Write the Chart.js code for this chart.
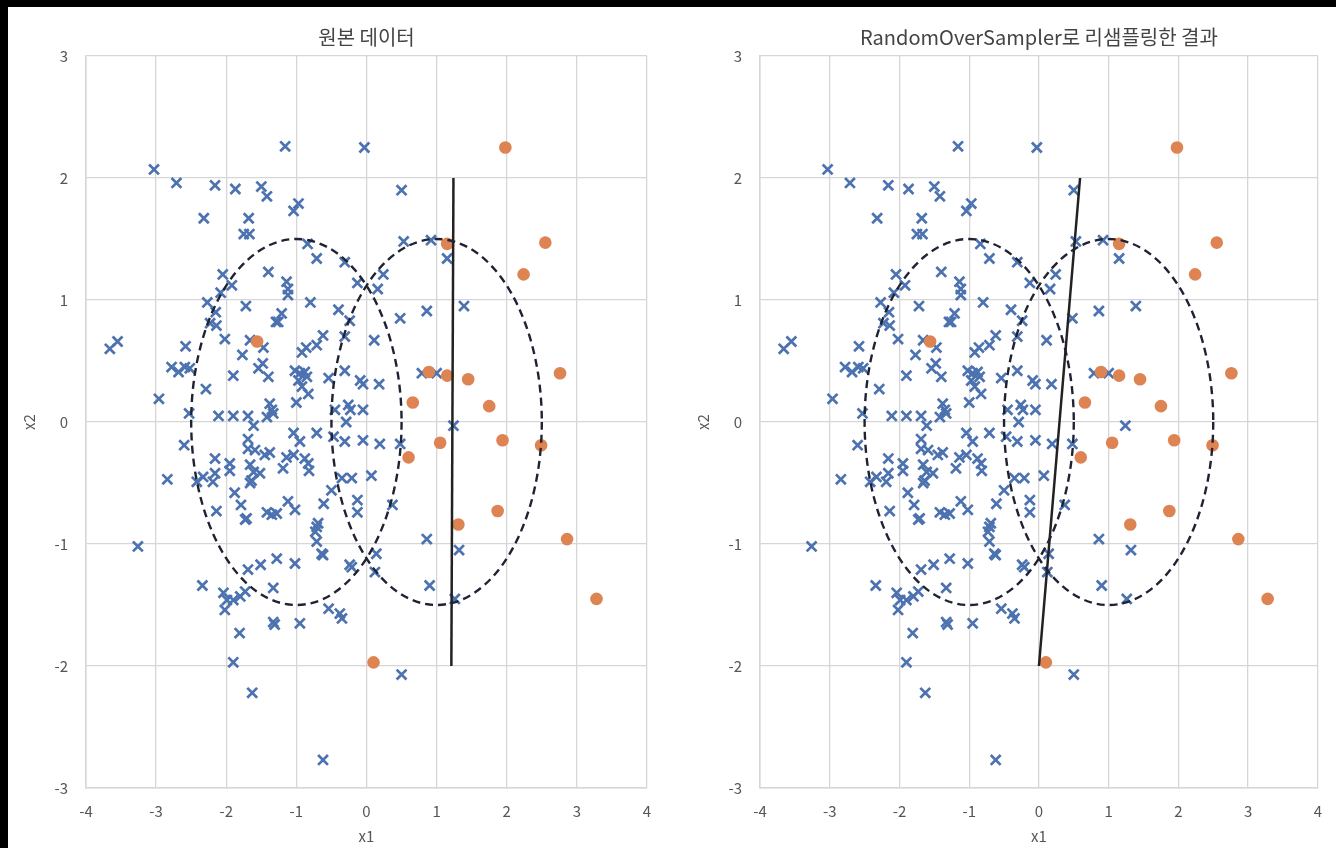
<!DOCTYPE html>
<html>
<head>
<meta charset="utf-8">
<script src="https://cdn.jsdelivr.net/npm/chart.js@4.4.0/dist/chart.umd.min.js"></script>
<style>
  html, body { margin: 0; padding: 0; background: #000; }
  body { width: 1336px; height: 848px; position: relative; overflow: hidden; }
  #sheet { position: absolute; left: 8px; top: 7px; width: 1328px; height: 841px; background: #fff; }
  .box { position: absolute; top: 0; height: 841px; }
  #boxLeft { left: 0; width: 674px; }
  #boxRight { left: 674px; width: 654px; }
</style>
</head>
<body>
<div id="sheet">
  <div class="box" id="boxLeft"><canvas id="leftChart"></canvas></div>
  <div class="box" id="boxRight"><canvas id="rightChart"></canvas></div>
</div>
<script>
// class 0 samples (blue crosses)
const blueX1 = [-3.03,-2.71,-2.16,-1.87,-1.50,-1.42,-1.16,-2.32,-1.68,-1.75,-1.67,-1.40,-2.05,-1.92,-2.08,-1.72,-2.27,-2.15,-2.23,-2.14,
  -1.29,-2.02,-3.66,-3.55,-2.58,-1.66,-1.47,-1.77,-2.78,-2.68,-2.59,-2.52,-1.48,-1.54,-1.40,-1.90,-2.29,-2.96,-2.53,-2.11,
  -1.90,-1.69,-1.38,-1.35,-1.42,-1.33,-1.61,-1.69,-2.60,-1.69,
  -0.03,0.50,-0.97,-1.04,-0.84,0.53,0.92,1.15,-0.71,-0.31,0.24,-0.13,0.16,-1.14,-1.12,-1.12,-0.80,-0.40,-0.24,0.48,
  0.86,-1.21,-1.26,-0.31,-0.62,-0.71,-0.86,-0.92,0.11,-1.02,-0.95,-0.88,-0.97,-0.85,-0.92,-0.83,-0.54,-0.31,-0.09,-0.05,
  0.18,0.79,1.00,-1.00,-0.45,-0.26,-0.23,-0.05,-0.29,-1.04,-0.95,-0.71,-0.47,-0.31,-0.05,0.19,0.48,1.24,1.39,
  0.50,-0.62,0.86,0.90,0.14,0.12,-0.24,-0.21,-0.54,-0.38,-0.35,-0.95,-1.33,-1.31,-1.33,-1.28,-1.02,-0.71,-0.69,-0.73,
  -0.71,-0.62,-0.64,-1.12,-1.02,-1.28,-1.35,-0.61,-0.13,-0.13,0.37,-0.50,-0.35,-0.21,0.07,-1.19,-1.14,-1.04,-0.83,-0.82,
  -0.88,1.32,1.26,
  -2.84,-2.16,-2.42,-2.33,-2.16,-2.19,-1.95,-1.95,-1.66,-1.61,-1.52,-1.64,-1.66,-1.45,-1.38,-1.59,-1.88,-1.79,-2.14,-1.73,
  -1.71,-1.42,-3.26,-2.34,-2.04,-1.99,-2.02,-1.90,-1.80,-1.73,-1.69,-1.51,-1.81,-1.90,-1.63];
const blueX2 = [2.07,1.96,1.94,1.91,1.93,1.85,2.26,1.67,1.67,1.54,1.54,1.23,1.21,1.12,1.06,0.95,0.98,0.90,0.81,0.79,
  0.82,0.68,0.60,0.66,0.62,0.67,0.61,0.55,0.45,0.41,0.45,0.44,0.48,0.44,0.37,0.38,0.27,0.19,0.07,0.05,
  0.05,0.05,0.15,0.10,0.04,0.07,-0.03,-0.14,-0.19,-0.22,
  2.25,1.90,1.79,1.73,1.46,1.48,1.49,1.34,1.34,1.31,1.21,1.14,1.09,1.15,1.09,1.04,0.98,0.92,0.83,0.85,
  0.91,0.89,0.82,0.70,0.71,0.63,0.61,0.57,0.67,0.42,0.40,0.41,0.34,0.37,0.29,0.23,0.36,0.42,0.34,0.31,
  0.31,0.40,0.40,0.16,0.10,0.14,0.10,0.10,0.00,-0.09,-0.16,-0.09,-0.12,-0.16,-0.15,-0.18,-0.18,-0.03,0.95,
  -2.07,-2.77,-0.96,-1.34,-1.08,-1.23,-1.17,-1.19,-1.53,-1.57,-1.61,-1.65,-1.64,-1.66,-1.36,-1.12,-1.16,-0.86,-0.83,-0.90,
  -0.98,-1.09,-1.08,-0.65,-0.72,-0.75,-0.76,-0.67,-0.64,-0.74,-0.68,-0.56,-0.46,-0.46,-0.44,-0.38,-0.29,-0.27,-0.34,-0.40,
  -0.30,-1.05,-1.45,
  -0.47,-0.30,-0.49,-0.45,-0.42,-0.49,-0.34,-0.40,-0.35,-0.41,-0.42,-0.48,-0.50,-0.27,-0.25,-0.23,-0.58,-0.68,-0.73,-0.80,
  -0.79,-0.74,-1.02,-1.34,-1.40,-1.46,-1.54,-1.46,-1.43,-1.39,-1.21,-1.17,-1.73,-1.97,-2.22];

// class 1 samples (orange dots)
const orangeX1 = [1.98,2.55,1.15,2.24,-1.56,0.89,1.15,1.45,2.76,0.66,1.75,1.05,1.94,2.49,0.60,1.31,1.87,2.86,3.28,0.10];
const orangeX2 = [2.25,1.47,1.46,1.21,0.66,0.41,0.38,0.35,0.40,0.16,0.13,-0.17,-0.15,-0.19,-0.29,-0.84,-0.73,-0.96,-1.45,-1.97];

// decision lines
const leftLineX1 = [1.24, 1.21];
const leftLineX2 = [2, -2];
const rightLineX1 = [0.59, 0.0];
const rightLineX2 = [2, -2];

// dashed circles around the two class centres
const ellipseX1 = [-1, 1];
const ellipseX2 = [0, 0];
const ellipseR = 1.5;

// axis ticks
const xTicks = [-4, -3, -2, -1, 0, 1, 2, 3, 4];
const yTicks = [-3, -2, -1, 0, 1, 2, 3];

const FONT = "'Noto Sans CJK KR', 'Noto Sans', sans-serif";
const toPts = (xs, ys) => xs.map((v, i) => ({ x: v, y: ys[i] }));

const ellipsePlugin = {
  id: 'ellipses',
  afterDatasetsDraw(chart) {
    const { ctx, chartArea, scales: { x, y } } = chart;
    ctx.save();
    ctx.beginPath();
    ctx.rect(chartArea.left, chartArea.top, chartArea.width, chartArea.height);
    ctx.clip();
    ctx.strokeStyle = '#1f2233';
    ctx.lineWidth = 2.4;
    ctx.setLineDash([8, 5]);
    ellipseX1.forEach((cx1, i) => {
      const cx = x.getPixelForValue(cx1);
      const cy = y.getPixelForValue(ellipseX2[i]);
      const rx = x.getPixelForValue(cx1 + ellipseR) - cx;
      const ry = cy - y.getPixelForValue(ellipseX2[i] + ellipseR);
      ctx.beginPath();
      ctx.ellipse(cx, cy, rx, ry, 0, 0, Math.PI * 2);
      ctx.stroke();
    });
    ctx.restore();
  }
};

function makeChart(id, title, lineX1, lineX2, padRight) {
  const grid = { color: '#d6d6d6', lineWidth: 1.3, drawTicks: false };
  const border = { color: '#d6d6d6', width: 1.5 };
  const tickFont = { family: FONT, size: 15 };
  return new Chart(document.getElementById(id), {
    type: 'scatter',
    data: {
      datasets: [
        {
          type: 'line',
          data: toPts(lineX1, lineX2),
          borderColor: '#222222',
          borderWidth: 2.5,
          pointRadius: 0,
          fill: false,
          order: 0
        },
        {
          data: toPts(orangeX1, orangeX2),
          pointStyle: 'circle',
          pointRadius: 6.3,
          backgroundColor: '#dd8452',
          borderColor: '#dd8452',
          borderWidth: 0,
          order: 1
        },
        {
          data: toPts(blueX1, blueX2),
          pointStyle: 'crossRot',
          pointRadius: 7,
          borderColor: '#4c72b0',
          borderWidth: 2.7,
          order: 2
        }
      ]
    },
    options: {
      responsive: true,
      maintainAspectRatio: false,
      animation: false,
      layout: { padding: { left: 0, right: padRight, top: 0, bottom: 0 } },
      plugins: {
        legend: { display: false },
        tooltip: { enabled: false },
        title: {
          display: true,
          fullSize: false,
          text: title,
          color: '#444',
          font: { family: FONT, size: 20, weight: 'normal' },
          padding: { top: 18, bottom: 7 }
        }
      },
      scales: {
        x: {
          type: 'linear',
          min: xTicks[0],
          max: xTicks[xTicks.length - 1],
          afterBuildTicks: (axis) => { axis.ticks = xTicks.map(v => ({ value: v })); },
          afterFit: (axis) => { axis.height = 60; },
          grid, border,
          ticks: { color: '#555', font: tickFont, padding: 14 },
          title: { display: true, text: 'x1', color: '#555', font: { family: FONT, size: 15 }, padding: { top: 0, bottom: 3 } }
        },
        y: {
          type: 'linear',
          min: yTicks[0],
          max: yTicks[yTicks.length - 1],
          afterBuildTicks: (axis) => { axis.ticks = yTicks.map(v => ({ value: v })); },
          afterFit: (axis) => { axis.width = 78; },
          grid, border,
          ticks: { color: '#555', font: tickFont, padding: 18 },
          title: { display: true, text: 'x2', color: '#555', font: { family: FONT, size: 15 }, padding: { top: 12, bottom: 0 } }
        }
      }
    },
    plugins: [ellipsePlugin]
  });
}

makeChart('leftChart', '원본 데이터', leftLineX1, leftLineX2, 35);
makeChart('rightChart', 'RandomOverSampler로 리샘플링한 결과', rightLineX1, rightLineX2, 14);
</script>
</body>
</html>
